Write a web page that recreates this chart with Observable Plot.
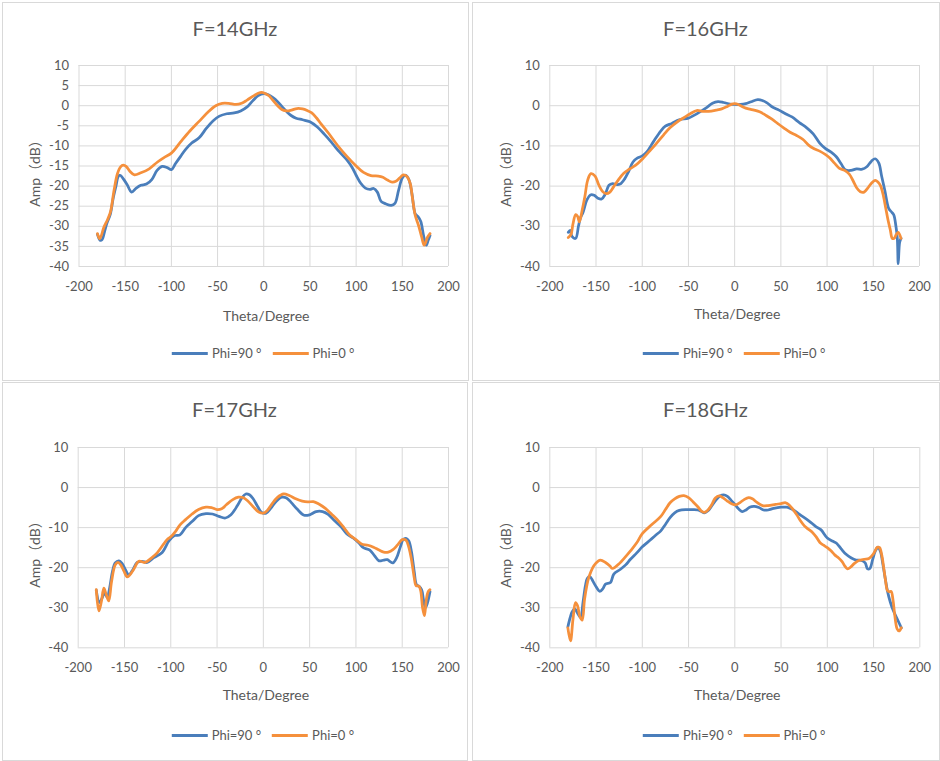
<!DOCTYPE html>
<html>
<head>
<meta charset="utf-8">
<script src="https://cdn.jsdelivr.net/npm/d3@7"></script>
<script src="https://cdn.jsdelivr.net/npm/@observablehq/plot@0.6"></script>
<style>
  html, body { margin: 0; padding: 0; background: #fff; }
  #root { position: relative; width: 940px; height: 761px; overflow: hidden; font-family: Lato, "Noto Sans CJK SC", sans-serif; color: #595959; }
  .box { position: absolute; box-sizing: border-box; border: 1px solid #d9d9d9; background: #fff; }
  .txt { position: absolute; transform: translate(-50%, -50%); white-space: nowrap; line-height: 1; }
  .title { font-size: 20px; }
  .axt { font-size: 14px; }
  .ylab { transform: translate(-50%, -50%) rotate(-90deg); }
  .cjk { font-family: "Noto Sans CJK SC", sans-serif; }
  .legend { position: absolute; transform: translate(-50%, -50%); display: flex; align-items: center; font-size: 13px; white-space: nowrap; }
  .legend .sw { display: inline-block; width: 36px; height: 3px; margin-right: 4px; }
  .legend .it { display: flex; align-items: center; margin-right: 11px; }
  .legend .it:last-child { margin-right: 0; }
  .plot { position: absolute; }
</style>
</head>
<body>
<div id="root"></div>
<script>
// ---------- data ----------
const panelTitles = ["F=14GHz", "F=16GHz", "F=17GHz", "F=18GHz"];
const seriesNames = ["Phi=90 °", "Phi=0 °"];
const seriesColors = ["#4a7ebb", "#f5903c"];
const xTicks = [-200, -150, -100, -50, 0, 50, 100, 150, 200];
const yTicks14 = [-40, -35, -30, -25, -20, -15, -10, -5, 0, 5, 10];
const yTicksOther = [-40, -30, -20, -10, 0, 10];
const xLabel = "Theta/Degree";
const yLabelParts = ["Amp", "（", "dB", "）"];

// [theta (deg), amplitude (dB)]
const f14_phi90 = [[-180,-32],[-177,-33.5],[-175,-33.3],[-172,-31],[-170,-29.4],[-166,-26.9],[-163,-23],[-160,-20],[-157.5,-17.6],[-155.5,-17.3],[-152,-18.2],[-148,-19.6],[-143,-21.5],[-138,-20.5],[-133,-19.8],[-127,-19.5],[-121,-18.3],[-115.5,-16.1],[-110,-15.1],[-104.5,-15.4],[-100,-15.9],[-95.5,-14.4],[-90,-12.6],[-85,-11],[-78,-9.3],[-70,-8],[-62,-5.6],[-55,-3.8],[-48,-2.6],[-40,-2],[-32,-1.8],[-25,-1.3],[-18,-0.3],[-12,1.2],[-6,2.5],[0,3],[5,2.7],[10,2],[15,1],[20,-0.3],[25,-1.5],[30,-2.5],[35,-3.1],[42,-3.5],[50,-4],[58,-5.3],[66,-7.2],[74,-9.3],[82,-11.5],[90,-13.5],[96,-15.5],[100,-17.3],[105,-19.3],[110,-20.5],[115,-20.8],[119,-20.6],[123,-21.5],[127,-23.8],[132,-24.4],[138,-24.8],[142,-24.3],[146,-21],[150,-18],[153.5,-17.3],[157,-18.3],[160.5,-22],[164,-26.9],[167,-27.6],[170,-28.8],[173,-32.3],[175.9,-34.7],[178,-33.5],[180,-32.3]];
const f14_phi0 = [[-180,-31.8],[-177.5,-33.1],[-173,-30.2],[-169,-28.3],[-166,-26.5],[-162,-21],[-158.5,-17],[-155,-15.2],[-152,-14.8],[-149,-15.1],[-145,-16.3],[-140,-17.2],[-133,-16.7],[-124,-15.7],[-115,-14],[-108,-12.9],[-100,-11.8],[-90,-9],[-80,-6.3],[-70,-3.9],[-60,-1.5],[-52,0],[-45,0.6],[-38,0.6],[-30,0.3],[-24,0.6],[-18,1.4],[-12,2.3],[-6,3.1],[-2,3.3],[2,3],[6,2.4],[10,1.3],[15,0],[20,-1],[25,-1.3],[30,-1.1],[36,-0.7],[42,-0.8],[47,-1.2],[52,-1.8],[57,-3],[62,-4.5],[70,-6.8],[80,-9.9],[90,-12.6],[100,-15],[108,-16.6],[116,-17.4],[124,-17.5],[129,-17.8],[134,-18.5],[139,-19],[143,-18.8],[147,-18],[151,-17.2],[155,-17.6],[158.6,-19.4],[161,-23],[164,-27.3],[167.6,-29.8],[171,-32.7],[173.7,-34.7],[177.3,-32.7],[180,-31.8]];

const f16_phi90 = [[-180,-31.5],[-178,-31],[-176,-32.5],[-172,-33],[-169,-30],[-167,-28],[-164,-26.5],[-160,-23.5],[-156,-22.2],[-152,-22.3],[-148,-23],[-144,-23.2],[-140,-22],[-136,-19.8],[-132,-19.4],[-128,-19.6],[-124,-19.5],[-119,-18.2],[-115,-16.5],[-110,-14],[-105,-13],[-100,-12.5],[-95,-11.5],[-88,-9],[-80,-6.3],[-75,-5.1],[-68,-4.4],[-60,-3.5],[-50,-3.1],[-44,-2.4],[-38,-1.6],[-30,-0.4],[-24,0.6],[-18,1],[-12,0.8],[-5,0.4],[0,0.3],[6,0.3],[12,0.5],[18,1],[25,1.5],[30,1.3],[35,0.7],[40,-0.2],[48,-1.1],[55,-2],[62,-2.8],[70,-4.2],[78,-5.5],[85,-7],[92,-9.3],[98,-10.6],[104,-11.5],[110,-12.7],[115,-14.4],[120,-16],[126,-16.1],[132,-15.7],[138,-15.8],[143,-15.2],[148,-13.8],[152,-13.2],[156,-14.3],[159,-17.5],[162.5,-21.1],[166.8,-25.6],[170,-26.5],[172.2,-27.2],[174.5,-30],[176,-33],[177,-39.3],[178.5,-34],[180,-33]];
const f16_phi0 = [[-180,-32.8],[-177,-32],[-175,-29.5],[-172,-27.1],[-170,-27.5],[-168,-28.9],[-165,-26],[-162,-22.5],[-159,-18.5],[-155.5,-16.9],[-151,-17.5],[-147,-19.7],[-143,-21.3],[-139,-21.9],[-135,-21.5],[-131,-20.2],[-126,-18.5],[-120,-16.8],[-114,-15.8],[-107,-14.8],[-100,-13.3],[-92,-11.3],[-85,-9.5],[-77,-7.3],[-70,-5.5],[-62,-4],[-55,-3],[-48,-2],[-41,-1.2],[-35,-1.4],[-28,-1.4],[-20,-1.1],[-14,-0.8],[-8,-0.2],[-3,0.4],[0,0.5],[4,0.3],[9,-0.3],[15,-0.8],[21,-1.1],[27,-1.5],[33,-2.3],[40,-3.3],[47,-4.5],[53,-5.5],[60,-6.6],[67,-7.4],[74,-8.4],[80,-9.8],[86,-10.7],[92,-11.3],[98,-12.1],[103,-13],[108,-14.3],[113,-15.5],[119,-16.1],[124,-17],[128,-18.6],[132,-20.4],[136,-21.4],[140,-21.5],[144,-20.5],[148,-19.3],[152,-18.6],[155,-19],[158,-20],[161,-22.5],[163.5,-25.5],[166,-28.5],[168.5,-31],[170.5,-33],[172.5,-33],[175,-32],[177,-31.5],[180,-33]];

const f17_phi90 = [[-180.5,-25.6],[-177,-28.7],[-174,-27.5],[-171.5,-26.2],[-168.7,-27.4],[-166,-25],[-163,-21],[-160,-18.8],[-156,-18.3],[-152.5,-19],[-149,-20.5],[-145.3,-21.8],[-141.7,-20.8],[-136.3,-18.7],[-131,-18.4],[-125.5,-18.7],[-118.3,-17.5],[-109.3,-16.2],[-102,-13.3],[-96,-12],[-90,-11.8],[-84,-10],[-77,-8.5],[-70,-7],[-62,-6.5],[-55,-6.6],[-48,-7.2],[-41,-7.6],[-35,-6.8],[-28,-4.5],[-23,-2.5],[-19,-1.6],[-15,-1.8],[-11,-2.8],[-6,-4.8],[-2,-6.2],[3,-6.4],[8,-5.2],[14,-3.4],[20,-2.4],[25,-2.6],[30,-3.7],[37,-5.5],[44,-6.9],[50,-6.8],[57,-6],[64,-6],[70,-6.7],[77,-8.3],[84,-9.8],[90,-11.5],[97,-12.6],[103,-13.8],[108,-15],[115,-15.6],[120,-17],[125,-18.3],[130,-18.1],[134,-18],[137,-18.5],[140,-18.8],[144,-17.5],[148,-14.8],[151,-13],[154,-12.7],[157,-13.3],[160,-16],[163,-21],[165.5,-24.3],[168.5,-24.7],[171,-25.5],[173,-28],[175,-30],[177,-29],[180,-26]];
const f17_phi0 = [[-180.5,-25.5],[-177.7,-30.8],[-175,-28.5],[-172.3,-25.1],[-170,-26.5],[-167,-28.3],[-164,-23.5],[-160,-19.3],[-157,-18.7],[-154,-19.3],[-150.7,-20.8],[-147,-22.3],[-143.5,-21.6],[-140,-20.4],[-134.5,-18.4],[-128,-18.7],[-121,-17.6],[-114.7,-16.3],[-108,-14.2],[-104,-13],[-100,-12.3],[-95,-11],[-90,-9.3],[-84,-8],[-77,-6.6],[-70,-5.5],[-62,-4.9],[-56,-5],[-50,-5.5],[-45,-5.3],[-40,-4.3],[-33,-3],[-27,-2.4],[-22,-2.5],[-17,-3.3],[-11,-4.8],[-5,-6.1],[0,-6.4],[4,-5.8],[9,-4.2],[15,-2.5],[22,-1.6],[28,-2],[35,-2.8],[42,-3.4],[48,-3.6],[54,-3.5],[60,-4.1],[67,-5.2],[74,-6.7],[81,-8.3],[87,-10],[93,-11.8],[100,-13],[106,-14.1],[113,-14.4],[119,-14.9],[125,-15.6],[130,-16.1],[135,-16.1],[140,-15.5],[145,-14.3],[150,-13],[154,-13.1],[157,-14.8],[160,-18],[163,-22.5],[165,-24.5],[168,-24.6],[170,-25.8],[172,-30],[174,-32],[176,-28],[178,-26],[180,-25.5]];

const f18_phi90 = [[-180.5,-34.8],[-178,-32.5],[-175.8,-31],[-173,-30.3],[-170.4,-31.2],[-166.8,-32.4],[-164,-28.5],[-161.5,-24.5],[-159.5,-22.7],[-156.8,-22.2],[-153.5,-23.3],[-150.6,-24.5],[-145.9,-25.9],[-142.5,-25.2],[-139.8,-24.1],[-134.4,-23.7],[-130.8,-21.6],[-123.6,-20.4],[-118,-19.3],[-112.8,-17.9],[-106,-16.3],[-100,-14.8],[-95,-13.8],[-90,-12.8],[-85,-11.8],[-80,-10.8],[-75,-9.2],[-70,-7.5],[-65,-6.3],[-60,-5.7],[-52,-5.5],[-45,-5.5],[-40,-5.6],[-36,-6],[-33,-6.3],[-29,-5.8],[-25,-4.6],[-20,-3],[-16,-2.1],[-12,-1.8],[-8,-2.2],[-4,-3.2],[0,-4.2],[4,-5.3],[8,-6],[12,-5.6],[16,-4.9],[21,-4.7],[26,-5],[31,-5.6],[36,-5.6],[42,-5.2],[50,-4.9],[56,-4.9],[62,-5.4],[70,-6.7],[80,-8.3],[88,-9.8],[93,-10.5],[100,-12.6],[106,-13.4],[110,-13.9],[115,-15.3],[120,-16.6],[126,-17.6],[131,-18.1],[137,-18.2],[141,-18.8],[143.5,-20.3],[146,-20.2],[149,-18],[152,-15.8],[155,-14.9],[157.5,-16],[160,-19],[162.5,-22.5],[165,-25.8],[168,-28.5],[171,-30.5],[175,-32.5],[178,-34],[180,-35]];
const f18_phi0 = [[-180.5,-35],[-177.6,-38.3],[-175,-33],[-172.2,-28.7],[-170,-29.5],[-167.5,-32.2],[-165,-33.1],[-162.5,-28],[-160,-24.5],[-157.8,-22.4],[-152.4,-19.5],[-148,-18.4],[-145.2,-18.1],[-139.8,-18.7],[-135,-19.6],[-132.5,-20.2],[-129,-19.8],[-125.4,-19.1],[-119,-17.5],[-112.8,-15.8],[-106,-13.8],[-100,-11.5],[-90,-9.3],[-80,-7.2],[-75,-5.5],[-70,-3.8],[-65,-2.8],[-60,-2.2],[-55,-2],[-50,-2.5],[-45,-3.6],[-40,-4.8],[-36,-5.9],[-33,-6.2],[-29,-5.6],[-25,-4.3],[-21,-2.6],[-17,-2.1],[-13,-2.5],[-8,-3.4],[-3,-4.1],[1,-4.3],[6,-3.7],[10,-3],[15,-2.5],[19,-2.8],[24,-3.7],[30,-4.5],[36,-4.5],[44,-4.2],[50,-4],[55,-3.8],[59,-4.4],[63,-5.5],[67,-6.8],[71,-8.3],[75,-9.5],[79,-10.3],[84,-11.2],[88,-12.3],[92,-13.7],[96,-14.4],[100,-15],[104,-15.8],[108,-16.8],[112,-17.5],[116,-18.5],[119,-19.6],[122,-20.3],[125,-19.9],[129,-19],[134,-18.2],[140,-17.9],[145,-17.7],[150,-16.5],[154,-14.9],[156.5,-15],[159,-17],[161,-20],[163,-23.3],[165,-25.7],[167,-26],[169,-25.9],[171,-28],[173,-32],[175.5,-35.3],[177.5,-35.8],[180,-35]];

// ---------- layout ----------
const panels = [
  {title: panelTitles[0], series: [f14_phi90, f14_phi0], yTicks: yTicks14,
   box: [2, 2, 468, 380], plot: [78.5, 65, 448, 266], titleY: 28, xLabY: 316, legY: 353, yLabX: 34},
  {title: panelTitles[1], series: [f16_phi90, f16_phi0], yTicks: yTicksOther,
   box: [472, 2, 939, 380], plot: [549.3, 65, 919, 266], titleY: 28, xLabY: 314, legY: 353, yLabX: 505},
  {title: panelTitles[2], series: [f17_phi90, f17_phi0], yTicks: yTicksOther,
   box: [2, 382, 467, 760], plot: [77.7, 446.7, 448, 647], titleY: 409, xLabY: 695, legY: 735, yLabX: 34},
  {title: panelTitles[3], series: [f18_phi90, f18_phi0], yTicks: yTicksOther,
   box: [472, 382, 939, 760], plot: [549.3, 446.7, 919.3, 647], titleY: 409, xLabY: 695, legY: 735, yLabX: 505}
];

const root = document.getElementById("root");
function addText(cls, text, x, y) {
  const d = document.createElement("div");
  d.className = "txt " + cls;
  d.textContent = text;
  d.style.left = x + "px";
  d.style.top = y + "px";
  root.appendChild(d);
  return d;
}
const fmt = d => String(d); // plain hyphen-minus like the reference

for (const p of panels) {
  const [bx0, by0, bx1, by1] = p.box;
  const [px0, py0, px1, py1] = p.plot;
  const box = document.createElement("div");
  box.className = "box";
  box.style.left = bx0 + "px";
  box.style.top = by0 + "px";
  box.style.width = (bx1 - bx0 + 1) + "px";
  box.style.height = (by1 - by0 + 1) + "px";
  root.appendChild(box);

  const mt = 10, mb = 32;
  const width = bx1 - bx0;
  const height = (py1 - py0) + mt + mb;
  const chart = Plot.plot({
    width, height,
    marginLeft: px0 - bx0, marginRight: bx1 - px1, marginTop: mt, marginBottom: mb,
    style: {fontFamily: "Lato, sans-serif", fontSize: "13px", color: "#595959", background: "transparent", overflow: "visible"},
    x: {domain: [-200, 200]},
    y: {domain: [-40, 10]},
    marks: [
      Plot.gridX(xTicks, {stroke: "#d9d9d9", strokeOpacity: 1, strokeWidth: 1}),
      Plot.gridY(p.yTicks, {stroke: "#d9d9d9", strokeOpacity: 1, strokeWidth: 1}),
      Plot.axisX(xTicks, {tickSize: 0, tickPadding: 15, label: null, fill: "#595959", tickFormat: fmt}),
      Plot.axisY(p.yTicks, {tickSize: 0, tickPadding: 10, label: null, fill: "#595959", tickFormat: fmt}),
      ...p.series.map((s, i) => Plot.line(s, {x: d => d[0], y: d => d[1], stroke: seriesColors[i], strokeWidth: 2.75, curve: "catmull-rom", strokeLinejoin: "round", strokeLinecap: "round"}))
    ]
  });
  chart.classList.add("plot");
  chart.style.left = bx0 + "px";
  chart.style.top = (py0 - mt) + "px";
  root.appendChild(chart);

  addText("title", p.title, (bx0 + bx1) / 2, p.titleY);
  addText("axt", xLabel, (px0 + px1) / 2 + 3, p.xLabY);

  const yl = document.createElement("div");
  yl.className = "txt axt ylab";
  yl.style.left = p.yLabX + "px";
  yl.style.top = ((py0 + py1) / 2 + 4) + "px";
  yLabelParts.forEach((part, i) => {
    const s = document.createElement("span");
    s.textContent = part;
    if (i % 2 === 1) s.className = "cjk";
    yl.appendChild(s);
  });
  root.appendChild(yl);

  const leg = document.createElement("div");
  leg.className = "legend";
  leg.style.left = ((px0 + px1) / 2) + "px";
  leg.style.top = p.legY + "px";
  seriesNames.forEach((n, i) => {
    const it = document.createElement("span");
    it.className = "it";
    const sw = document.createElement("span");
    sw.className = "sw";
    sw.style.background = seriesColors[i];
    const t = document.createElement("span");
    t.textContent = n;
    it.appendChild(sw);
    it.appendChild(t);
    leg.appendChild(it);
  });
  root.appendChild(leg);
}
</script>
</body>
</html>
